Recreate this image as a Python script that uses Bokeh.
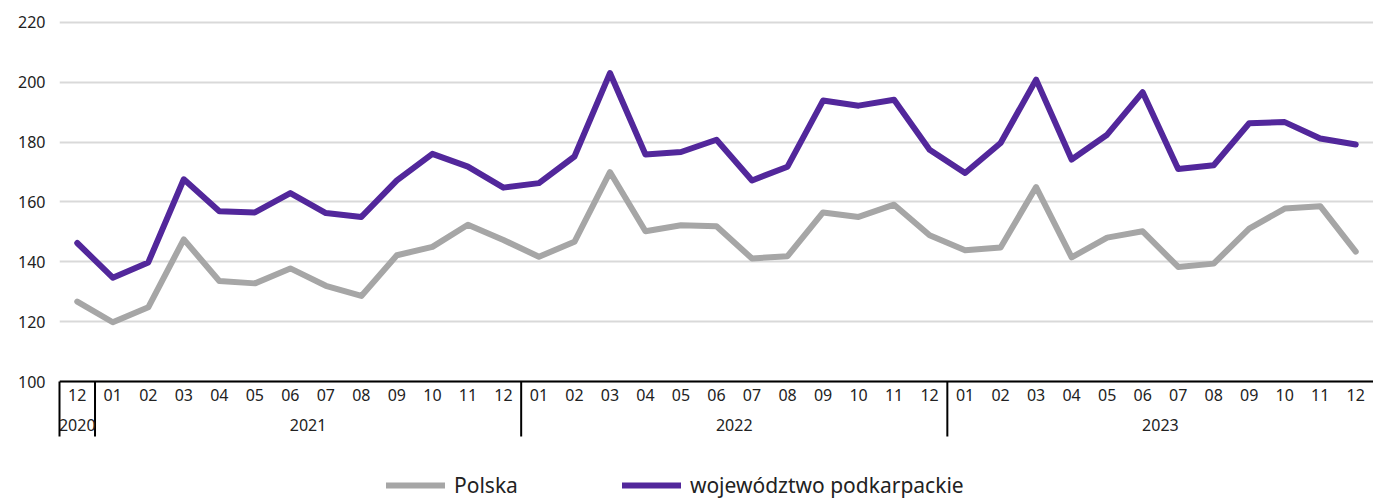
from bokeh.plotting import figure
from bokeh.models import (FactorRange, Range1d, FixedTicker, Legend, LegendItem,
                          ColumnDataSource, LinearAxis)
from bokeh.core.properties import value
from bokeh.embed import file_html
from bokeh.resources import INLINE

years = ["2020"] + ["2021"] * 12 + ["2022"] * 12 + ["2023"] * 12
months = ["12",
          "01", "02", "03", "04", "05", "06", "07", "08", "09", "10", "11", "12",
          "01", "02", "03", "04", "05", "06", "07", "08", "09", "10", "11", "12",
          "01", "02", "03", "04", "05", "06", "07", "08", "09", "10", "11", "12"]

polska = [126.7,
          119.8, 124.8, 147.5, 133.6, 132.8, 137.8, 132.0, 128.6, 142.2, 145.0, 152.4, 147.3,
          141.7, 146.7, 170.0, 150.2, 152.2, 151.9, 141.1, 141.9, 156.5, 155.0, 159.1, 148.9,
          143.9, 144.8, 165.0, 141.5, 148.1, 150.2, 138.3, 139.4, 151.1, 157.8, 158.6, 143.4]

podkarpackie = [146.3,
                134.7, 139.8, 167.6, 156.9, 156.5, 163.0, 156.3, 155.0, 167.2, 176.1, 171.8, 164.8,
                166.3, 175.2, 203.1, 175.9, 176.7, 180.8, 167.2, 171.8, 193.9, 192.2, 194.2, 177.5,
                169.7, 179.7, 200.9, 174.2, 182.5, 196.7, 171.0, 172.3, 186.3, 186.7, 181.2, 179.2]

series_names = ["Polska", "województwo podkarpackie"]
colors = ["#a6a6a6", "#52279b"]

y_ticks = [100, 120, 140, 160, 180, 200, 220]
y_min, y_max = 100, 220

factors = list(zip(years, months))
src = ColumnDataSource(dict(x=factors, polska=polska, podk=podkarpackie))

# year groups: label centre and boundaries in the range's synthetic units
group_names, group_start, group_len = [], [], []
for i, y in enumerate(years):
    if not group_names or group_names[-1] != y:
        group_names.append(y)
        group_start.append(i)
        group_len.append(0)
    group_len[-1] += 1
group_center = [s + n / 2 for s, n in zip(group_start, group_len)]
boundaries = group_start[1:]

# frame spans the whole lower area; the value axis starts at y_min (fixed axis)
px_per_unit = 362 / 121.0
y_start = y_min - 118 / px_per_unit
year_label_y = y_min - 43 / px_per_unit
sep_bottom = y_min - 55 / px_per_unit

p = figure(width=1373, height=499,
           x_range=FactorRange(*factors, group_padding=0, factor_padding=0, range_padding=0),
           y_range=Range1d(y_start, y_max + 1),
           y_axis_location=None,
           output_backend="svg", toolbar_location=None,
           min_border_left=59, min_border_right=0, min_border_top=19, min_border_bottom=0,
           outline_line_color=None, background_fill_color="white", border_fill_color="white")

font = "Noto Sans"

p.xgrid.grid_line_color = None
p.ygrid.ticker = FixedTicker(ticks=y_ticks)
p.ygrid.grid_line_color = "#d9d9d9"
p.ygrid.grid_line_width = 2

r1 = p.line(x="x", y="polska", source=src, line_color=colors[0], line_width=6,
            line_join="round", line_cap="round")
r2 = p.line(x="x", y="podk", source=src, line_color=colors[1], line_width=6,
            line_join="round", line_cap="round")

# year separators and year labels under the month labels
p.segment(x0=boundaries, x1=boundaries, y0=[y_min] * len(boundaries),
          y1=[sep_bottom] * len(boundaries), line_color="black", line_width=2)
p.text(x=group_center, y=[year_label_y] * len(group_names), text=group_names,
       text_font=value(font), text_font_size="16px", text_color="#222222",
       text_align="center", text_baseline="middle")

# thin edge line under the left end of the category axis
edge_axis = LinearAxis(ticker=FixedTicker(ticks=[]), bounds=(sep_bottom, y_min),
                       axis_line_color="black", axis_line_width=2,
                       major_tick_out=0, major_tick_in=0, minor_tick_out=0, minor_tick_in=0,
                       major_label_standoff=0, major_tick_line_color=None, minor_tick_line_color=None)
p.add_layout(edge_axis, "left")

yax = LinearAxis(ticker=FixedTicker(ticks=y_ticks),
                 axis_line_color=None, major_tick_line_color=None, minor_tick_line_color=None,
                 major_tick_out=0, major_tick_in=0, minor_tick_out=0, minor_tick_in=0,
                 major_label_standoff=14, major_label_text_font=font,
                 major_label_text_font_size="16px", major_label_text_color="#222222")
p.add_layout(yax, "left")

xa = p.xaxis[0]
xa.fixed_location = y_min
xa.axis_line_color = "black"
xa.axis_line_width = 2
xa.major_tick_line_color = None
xa.major_tick_out = 0
xa.major_tick_in = 0
xa.major_label_standoff = 7
xa.major_label_text_font = font
xa.major_label_text_font_size = "16px"
xa.major_label_text_color = "#222222"
xa.group_text_alpha = 0
xa.group_text_font_size = "16px"
xa.separator_line_color = None

legend = Legend(items=[LegendItem(label=series_names[0], renderers=[r1]),
                       LegendItem(label=series_names[1], renderers=[r2])],
                location=(327, 0), orientation="horizontal",
                padding=0, margin=0, spacing=104,
                glyph_width=59, glyph_height=20, label_standoff=9,
                label_text_font=font, label_text_font_size="21px", label_text_color="#222222",
                border_line_color=None, background_fill_alpha=0)
p.add_layout(legend, "center")

open("out.html", "w").write(file_html(p, INLINE))
